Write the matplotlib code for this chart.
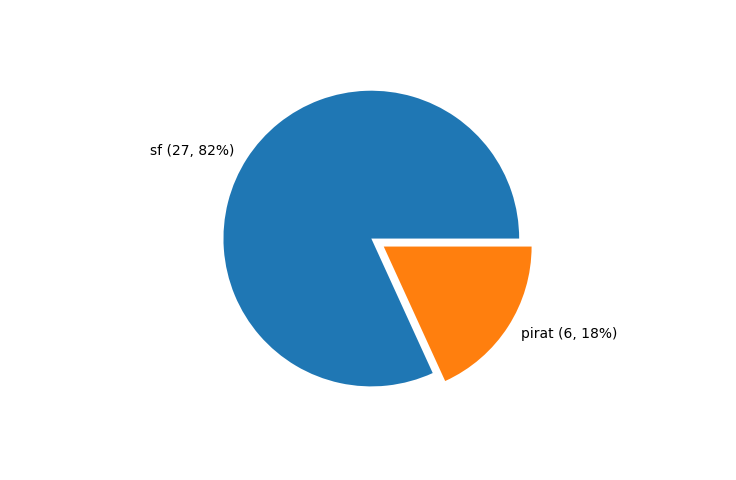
import matplotlib
matplotlib.use("Agg")
from matplotlib import pyplot as plt

categories = ["sf", "pirat"]
counts = [27, 6]
explode = [0, 0.1]

total = sum(counts)
labels = ["%s (%d, %d%%)" % (c, n, round(100.0 * n / total)) for c, n in zip(categories, counts)]

fig, ax = plt.subplots(figsize=(7.36, 4.8), dpi=100)
fig.subplots_adjust(left=0.117, right=0.892, bottom=0.118, top=0.888)
ax.pie(counts, labels=labels, explode=explode)
fig.savefig("out.png")
